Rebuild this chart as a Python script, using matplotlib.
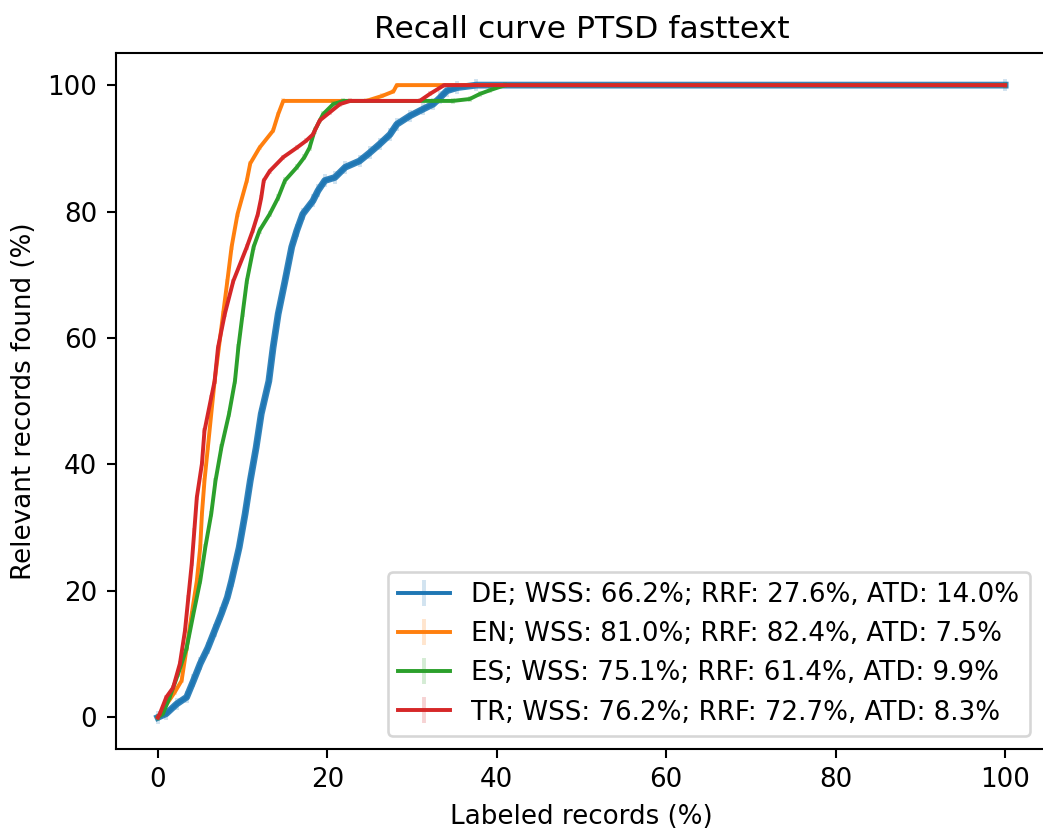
import matplotlib
matplotlib.use("Agg")
import matplotlib.pyplot as plt
import numpy as np

labels = [
    "DE; WSS: 66.2%; RRF: 27.6%, ATD: 14.0%",
    "EN; WSS: 81.0%; RRF: 82.4%, ATD: 7.5%",
    "ES; WSS: 75.1%; RRF: 61.4%, ATD: 9.9%",
    "TR; WSS: 76.2%; RRF: 72.7%, ATD: 8.3%",
]
colors = ["#1f77b4", "#ff7f0e", "#2ca02c", "#d62728"]

de_x = [0, 1.0, 2.2, 3.4, 4.2, 5.0, 5.9, 6.7, 7.5, 8.2, 8.7, 9.6, 10.3, 10.9, 11.6, 12.2, 13.1, 13.6,
        14.2, 15.0, 15.8, 16.4, 17.1, 18.3, 18.9, 19.7, 20.9, 22.1, 23.8, 25.0, 26.2, 27.4, 28.2,
        29.7, 31.3, 32.5, 33.3, 34.1, 35.3, 37.6, 100]
de_y = [0, 0.6, 2.1, 3.2, 5.8, 8.5, 11, 13.7, 16.4, 19, 21.6, 26.9, 32.2, 37.4, 42.7, 48, 53.2, 58.5,
        63.8, 69, 74.4, 77, 79.6, 81.7, 83.3, 84.9, 85.4, 87, 88, 89.3, 90.7, 92.2, 93.8,
        95.1, 96.2, 97, 98, 99.1, 99.6, 100, 100]

en_x = [0, 1.0, 2.0, 2.8, 3.4, 4.0, 4.6, 5.0, 5.2, 5.5, 5.9, 6.3, 6.7, 7.2, 7.7, 8.2, 8.7, 9.4,
        10.5, 10.9, 12.0, 13.6, 14.2, 14.8, 24.6, 26.5, 27.8, 28.2, 100]
en_y = [0, 2.0, 4.0, 5.8, 11, 16.4, 21.6, 26.9, 32.2, 37.4, 42.7, 48, 53.2, 58.5, 63.8, 69, 74.4, 79.6,
        84.9, 87.6, 90.1, 92.8, 95.4, 97.5, 97.5, 98.3, 99, 100, 100]

es_x = [0, 0.6, 1.4, 2.4, 3.4, 4.2, 5.0, 5.6, 6.3, 6.8, 7.5, 8.4, 9.1, 9.5, 10.0, 10.5, 11.3, 12.0,
        13.2, 14.2, 15.0, 16.4, 17.3, 17.9, 18.5, 19.5, 20.7, 21.9, 34.8, 36.8, 38.0, 39.2, 41.0, 100]
es_y = [0, 0.6, 3.2, 6.9, 11, 16.4, 21.6, 26.9, 32.2, 37.4, 42.7, 48, 53.2, 58.5, 63.8, 69, 74.4, 77,
        79.6, 82.2, 84.9, 87, 88.6, 90.1, 92.8, 95.4, 97, 97.5, 97.5, 97.8, 98.6, 99.2, 100, 100]

tr_x = [0, 0.24, 1.0, 1.8, 2.6, 3.2, 3.6, 4.0, 4.3, 4.6, 5.2, 5.5, 6.3, 6.7, 7.1, 7.9, 8.9, 10.5,
        11.2, 11.8, 12.2, 12.5, 13.2, 14.8, 16.4, 17.5, 18.3, 19.1, 20.3, 21.5, 22.7, 30.9, 32.1, 33.8, 100]
tr_y = [0, 0.6, 3.2, 4.7, 8.5, 13.7, 19, 24.3, 29.5, 34.8, 40.1, 45.3, 50.6, 53.2, 58.5, 63.8, 69, 74.4,
        77, 79.6, 82.2, 84.9, 86.4, 88.6, 90.1, 91.2, 92.2, 94.4, 95.7, 97, 97.5, 97.5, 98.6, 100, 100]

series = [(de_x, de_y), (en_x, en_y), (es_x, es_y), (tr_x, tr_y)]
errs = [1.0, 0.4, 0.5, 0.4]

fig = plt.figure(figsize=(1043 / 188, 830 / 188), dpi=188)
ax = fig.add_axes([115.5 / 1043, 81 / 830, 932 / 1043, 695.5 / 830])

for i, ((x, y), lab, c, e) in enumerate(zip(series, labels, colors, errs)):
    if i == 0:
        ax.plot(x, y, color=c, lw=2.6, alpha=0.9, zorder=1.5)
    eb = ax.errorbar(x, y, yerr=e, color=c, label=lab, lw=1.5, zorder=2 + i)
    for lc in eb[2]:
        lc.set_alpha(0.2)

ax.spines["right"].set_visible(False)
ax.set_xlim(-5, 105)
ax.set_ylim(-5, 105)
ax.set_xticks([0, 20, 40, 60, 80, 100])
ax.set_yticks([0, 20, 40, 60, 80, 100])
ax.set_title("Recall curve PTSD fasttext", fontsize=12)
ax.set_xlabel("Labeled records (%)")
ax.set_ylabel("Relevant records found (%)")
leg = ax.legend(loc="lower right", bbox_to_anchor=((1043 - 115.5) / 932, 0), bbox_transform=ax.transAxes,
                borderaxespad=0.5)
fig.savefig("out.png", dpi=188)
